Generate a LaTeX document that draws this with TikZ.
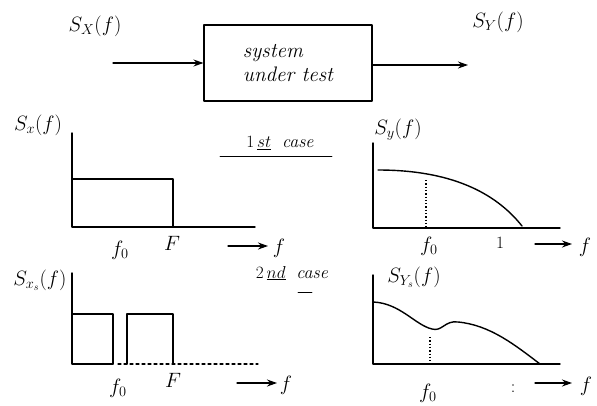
\documentclass[tikz,border=0pt]{standalone}
\usetikzlibrary{arrows.meta}
\begin{document}
\begin{tikzpicture}[x=1pt,y=-1pt,
  ink/.style={line width=1.1pt,line cap=round,line join=round},
  axis/.style={ink,line width=1.4pt},
  arr/.style={ink,-{Stealth[length=10pt,width=7pt]}},
  lbl/.style={inner sep=0pt,font=\fontsize{20}{22}\selectfont},
  sml/.style={inner sep=0pt,font=\fontsize{18}{20}\selectfont},
  dot/.style={line width=1.3pt,dotted}]
\useasboundingbox (0,0) rectangle (597,405);
% ---- top block diagram
\node[lbl] (sxin) at (95,26) {$S_X(f)$};
\node[draw,ink,minimum width=168pt,minimum height=76pt,align=left,
      font=\fontsize{21}{24}\selectfont\itshape] (sys) at (288,63) {system\\under test};
\coordinate (in) at (113,63);
\coordinate (out) at (468,65);
\draw[arr] (in) -- (sys.west);
\draw[arr] (sys.east |- out) -- (out);
\node[lbl] (syout) at (498,22) {$S_Y(f)$};
% ---- first case, left
\coordinate (o1) at (72,227);
\draw[axis] (72,133) -- (o1) -- (255,227);
\draw[ink] (72,179) -- (173,179) -- (173,227);
\node[lbl] (l1) at (38,125) {$S_x(f)$};
\node[sml] (c1) at (280,143) {$1\,\underline{st}$ \ \textit{case}};
\draw[ink,line width=0.8pt] (220,156) -- (332,156);
\node[lbl] (f01) at (120,250) {$f_0$};
\node[lbl] (F1) at (172,243) {$F$};
\coordinate (a1s) at (228,246);
\coordinate (a1e) at (268,246);
\draw[arr] (a1s) -- (a1e);
\node[lbl] (af1) at (279,248) {$f$};
% ---- first case, right
\coordinate (o2) at (373,228);
\draw[axis] (373,143) -- (o2) -- (560,228);
\draw[ink,line width=1.4pt] (378,170) .. controls (450,170) and (495,192) .. (522,226);
\draw[dot] (426,180) -- (426,228);
\node[lbl] (l2) at (398,130) {$S_y(f)$};
\node[lbl] (f02) at (429,246) {$f_0$};
\node[sml] (one) at (500,243) {$1$};
\coordinate (a2s) at (535,244);
\coordinate (a2e) at (572,244);
\draw[arr] (a2s) -- (a2e);
\node[lbl] (af2) at (585,247) {$f$};
% ---- second case, left
\coordinate (o3) at (72,364);
\draw[axis] (72,273) -- (o3) -- (113,364);
\draw[ink] (72,314) -- (113,314) -- (113,364);
\draw[ink] (127,364) -- (127,314) -- (173,314) -- (173,364);
\draw[ink,dashed] (118,364) -- (258,364);
\node[lbl] (l3) at (40,280) {$S_{x_s}(f)$};
\node[sml] (c2) at (292,273) {$2\,\underline{nd}$ \ \textit{case}};
\draw[ink,line width=0.8pt] (298,292) -- (312,292);
\node[lbl] (f03) at (118,388) {$f_0$};
\node[lbl] (F3) at (173,380) {$F$};
\coordinate (a3s) at (237,383);
\coordinate (a3e) at (277,383);
\draw[arr] (a3s) -- (a3e);
\node[lbl] (af3) at (286,385) {$f$};
% ---- second case, right
\coordinate (o4) at (373,364);
\draw[axis] (373,275) -- (o4) -- (560,364);
\draw[ink,line width=1.4pt] (373,302) .. controls (400,303) and (415,325) .. (432,329)
  .. controls (442,332) and (445,320) .. (458,322)
  .. controls (490,325) and (515,345) .. (540,364);
\draw[dot] (430,337) -- (430,364);
\node[lbl] (l4) at (414,277) {$S_{Y_s}(f)$};
\node[lbl] (f04) at (428,393) {$f_0$};
\node[sml] (col) at (513,389) {:};
\coordinate (a4s) at (535,383);
\coordinate (a4e) at (572,383);
\draw[arr] (a4s) -- (a4e);
\node[lbl] (af4) at (586,386) {$f$};
\end{tikzpicture}
\end{document}
